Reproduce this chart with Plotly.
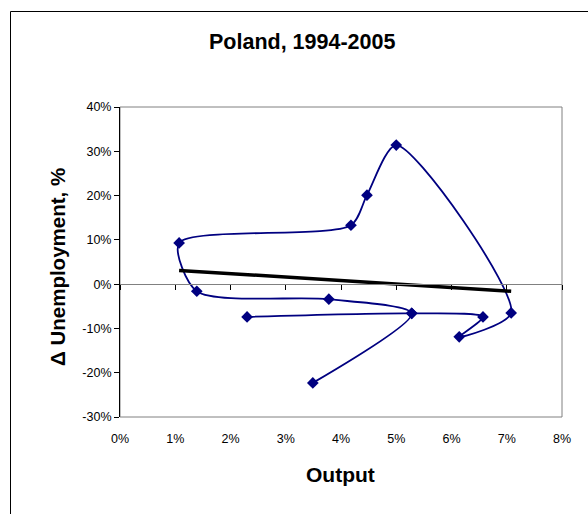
import plotly.graph_objects as go

# Output growth (%) and change in unemployment (%), in chronological order
output = [2.30, 5.28, 6.57, 6.14, 7.08, 5.00, 4.47, 4.18, 1.07, 1.39, 3.78, 5.28, 3.49]
d_unemployment = [-7.4, -6.6, -7.4, -11.9, -6.5, 31.4, 20.1, 13.3, 9.3, -1.6, -3.4, -6.6, -22.3]

# Linear trend line end points
trend_x = [1.07, 7.08]
trend_y = [3.1, -1.6]

x_ticks = [0, 1, 2, 3, 4, 5, 6, 7, 8]
x_tick_labels = ["0%", "1%", "2%", "3%", "4%", "5%", "6%", "7%", "8%"]
y_ticks = [-30, -20, -10, 0, 10, 20, 30, 40]
y_tick_labels = ["-30%", "-20%", "-10%", "0%", "10%", "20%", "30%", "40%"]

NAVY = "#000080"
FONT = "Liberation Sans, Arial, sans-serif"

W, H = 588, 514
ML, MR, MT, MB = 120, 26, 107, 97
PW, PH = W - ML - MR, H - MT - MB


def px_x(p):
    return (p - ML) / PW


def px_y(p):
    return (H - MB - p) / PH


fig = go.Figure()

fig.add_trace(go.Scatter(
    x=trend_x, y=trend_y, mode="lines", xaxis="x2",
    line=dict(color="black", width=3.5),
    hoverinfo="skip", showlegend=False,
))

fig.add_trace(go.Scatter(
    x=output, y=d_unemployment, mode="lines+markers",
    line=dict(color=NAVY, width=1.8, shape="spline", smoothing=0.75),
    marker=dict(symbol="diamond", size=9, color=NAVY),
    showlegend=False,
))

fig.update_layout(
    width=W, height=H,
    margin=dict(l=ML, r=MR, t=MT, b=MB),
    paper_bgcolor="white", plot_bgcolor="white",
    font=dict(family=FONT, size=12, color="black"),
    xaxis=dict(
        range=[0, 8], tickvals=x_ticks, ticktext=x_tick_labels,
        showgrid=False, zeroline=False, showline=False, ticks="",
        tickfont=dict(size=12.5), ticklabelstandoff=12,
    ),
    xaxis2=dict(
        range=[0, 8], overlaying="x", anchor="free",
        position=(0 - y_ticks[0]) / (y_ticks[-1] - y_ticks[0]),
        tickvals=x_ticks, showticklabels=False,
        showgrid=False, zeroline=False,
        showline=True, linecolor="#808080", linewidth=1,
        ticks="outside", ticklen=5, tickcolor="black", tickwidth=1,
    ),
    yaxis=dict(
        range=[y_ticks[0], y_ticks[-1]], tickvals=y_ticks, ticktext=y_tick_labels,
        showgrid=False, zeroline=False,
        showline=True, linecolor="black", linewidth=1,
        ticks="outside", ticklen=5, tickcolor="black",
        tickfont=dict(size=12.5),
    ),
    shapes=[
        # plot-area border
        dict(type="rect", xref="paper", yref="paper", x0=0, y0=0, x1=1, y1=1,
             line=dict(color="#808080", width=1), layer="below"),
        # chart-area frame
        dict(type="rect", xref="paper", yref="paper",
             x0=px_x(10.5), y0=px_y(530), x1=px_x(600), y1=px_y(11.5),
             line=dict(color="black", width=1), layer="below"),
    ],
    annotations=[
        dict(text="<b>Poland, 1994-2005</b>", xref="paper", yref="paper",
             x=px_x(302), y=px_y(42), showarrow=False,
             xanchor="center", yanchor="middle", font=dict(size=21.5)),
        dict(text="<b>Output</b>", xref="paper", yref="paper",
             x=px_x(340), y=px_y(474), showarrow=False,
             xanchor="center", yanchor="middle", font=dict(size=21)),
        dict(text="<b>Δ Unemployment, %</b>", xref="paper", yref="paper",
             x=px_x(57), y=px_y(267), showarrow=False, textangle=-90,
             xanchor="center", yanchor="middle", font=dict(size=20.5)),
    ],
)

fig.write_html("out.html")
